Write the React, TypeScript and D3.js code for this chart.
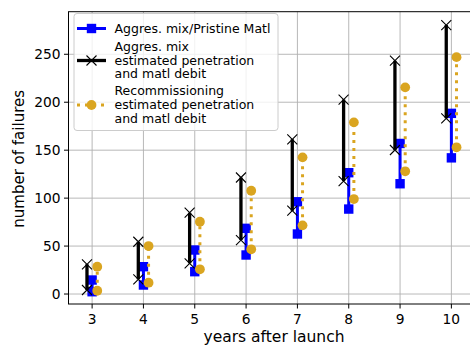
import React from "react";
import * as d3 from "d3";

const years = [3, 4, 5, 6, 7, 8, 9, 10];
const pristineLow = [2.4, 9.4, 23.3, 40.7, 62.6, 88.6, 115, 142];
const pristineHigh = [14.6, 28.5, 45.9, 68.5, 96.2, 126.5, 157, 188.4];
const aggLow = [4.2, 15.3, 32, 56.3, 86.9, 117.8, 150.2, 183.2];
const aggHigh = [31, 54.5, 84.8, 121.5, 161.3, 202.8, 243.3, 280.5];
const recLow = [3.4, 11.8, 25.8, 46.6, 71.6, 99, 128, 153];
const recHigh = [28.5, 50, 75.4, 107.7, 142.5, 179, 215.5, 247];
const yTicks = [0, 50, 100, 150, 200, 250];
const xTicks = [3, 4, 5, 6, 7, 8, 9, 10];
const legendLabels = [
  ["Aggres. mix/Pristine Matl"],
  ["Aggres. mix", "estimated penetration", "and matl debit"],
  ["Recommissioning", "estimated penetration", "and matl debit"],
];

const W = 470;
const H = 347;
const FONT = "DejaVu Sans, sans-serif";
const BLUE = "#0000ff";
const GOLD = "#daa520";

export default function App() {
  const left = 68.5, right = 475, top = 11.7, bottom = 304;
  const x = d3.scaleLinear().domain([2.54, 10.46]).range([left, right]);
  const y = d3.scaleLinear().domain([-10.4, 294.4]).range([bottom, top]);
  const off = 0.1;

  const xMark = (cx: number, cy: number, key: string) => {
    const s = 5;
    return (
      <path key={key} d={`M${cx - s},${cy - s}L${cx + s},${cy + s}M${cx - s},${cy + s}L${cx + s},${cy - s}`} stroke="#000" strokeWidth={1.1} fill="none" />
    );
  };
  const SQ = 9.4;
  const sq = (cx: number, cy: number, key: string) => (
    <rect key={key} x={cx - SQ / 2} y={cy - SQ / 2} width={SQ} height={SQ} fill={BLUE} />
  );
  const circ = (cx: number, cy: number, key: string) => (
    <circle key={key} cx={cx} cy={cy} r={4.9} fill={GOLD} />
  );
  const dash = "3,5";

  return (
    <svg width={W} height={H} style={{ position: "absolute", left: 0, top: 0, background: "#fff" }} fontFamily={FONT}>
      <defs>
        <clipPath id="ax">
          <rect x={left} y={top} width={right - left} height={bottom - top} />
        </clipPath>
      </defs>
      {/* grid */}
      {xTicks.map((t) => (
        <line key={"gx" + t} x1={x(t)} x2={x(t)} y1={top} y2={bottom} stroke="#b0b0b0" strokeWidth={0.9} />
      ))}
      {yTicks.map((t) => (
        <line key={"gy" + t} x1={left} x2={right} y1={y(t)} y2={y(t)} stroke="#b0b0b0" strokeWidth={0.9} />
      ))}
      <g clipPath="url(#ax)">
        {years.map((yr, i) => (
          <g key={"b" + yr}>
            <line x1={x(yr)} x2={x(yr)} y1={y(pristineLow[i])} y2={y(pristineHigh[i])} stroke={BLUE} strokeWidth={3} />
            {sq(x(yr), y(pristineLow[i]), "bl")}
            {sq(x(yr), y(pristineHigh[i]), "bh")}
          </g>
        ))}
        {years.map((yr, i) => (
          <g key={"k" + yr}>
            <line x1={x(yr - off)} x2={x(yr - off)} y1={y(aggLow[i])} y2={y(aggHigh[i])} stroke="#000" strokeWidth={3.3} />
            {xMark(x(yr - off), y(aggLow[i]), "kl")}
            {xMark(x(yr - off), y(aggHigh[i]), "kh")}
          </g>
        ))}
        {years.map((yr, i) => (
          <g key={"g" + yr}>
            <line x1={x(yr + off)} x2={x(yr + off)} y1={y(recLow[i])} y2={y(recHigh[i])} stroke={GOLD} strokeWidth={3} strokeDasharray={dash} />
            {circ(x(yr + off), y(recLow[i]), "gl")}
            {circ(x(yr + off), y(recHigh[i]), "gh")}
          </g>
        ))}
      </g>
      <rect x={left} y={top} width={right - left} height={bottom - top} fill="none" stroke="#000" strokeWidth={1} />
      {xTicks.map((t) => (
        <g key={"tx" + t}>
          <line x1={x(t)} x2={x(t)} y1={bottom} y2={bottom + 4.5} stroke="#000" strokeWidth={1} />
          <text x={x(t)} y={bottom + 19.5} textAnchor="middle" fontSize={13.8} fill="#000">{t}</text>
        </g>
      ))}
      {yTicks.map((t) => (
        <g key={"ty" + t}>
          <line x1={left - 4.5} x2={left} y1={y(t)} y2={y(t)} stroke="#000" strokeWidth={1} />
          <text x={left - 8} y={y(t) + 5} textAnchor="end" fontSize={13.8} fill="#000">{t}</text>
        </g>
      ))}
      <text x={274} y={342} textAnchor="middle" fontSize={15.5} fill="#000">years after launch</text>
      <text transform={`translate(24,${(top + bottom) / 2 + 1}) rotate(-90)`} textAnchor="middle" fontSize={15} fill="#000">number of failures</text>
      <g>
        <rect x={74} y={13.5} width={204} height={117} rx={3} fill="#fff" fillOpacity={0.8} stroke="#cccccc" strokeWidth={1} />
        <line x1={77} x2={106} y1={28.5} y2={28.5} stroke={BLUE} strokeWidth={3} />
        <rect x={91.5 - SQ / 2} y={28.5 - SQ / 2} width={SQ} height={SQ} fill={BLUE} />
        <line x1={77} x2={106} y1={60.5} y2={60.5} stroke="#000" strokeWidth={3.3} />
        {xMark(91.5, 60.5, "lx")}
        <line x1={77} x2={106} y1={105} y2={105} stroke={GOLD} strokeWidth={3} strokeDasharray={dash} />
        {circ(91.5, 105, "lc")}
        {legendLabels.map((lines, i) => {
          const cy = [28.5, 60.2, 104.5][i];
          const lh = 13.7;
          const y0 = cy - ((lines.length - 1) * lh) / 2;
          return lines.map((s, j) => (
            <text key={"lt" + i + j} x={114.5} y={y0 + j * lh + 4.4} fontSize={12.5} fill="#000">{s}</text>
          ));
        })}
      </g>
    </svg>
  );
}
